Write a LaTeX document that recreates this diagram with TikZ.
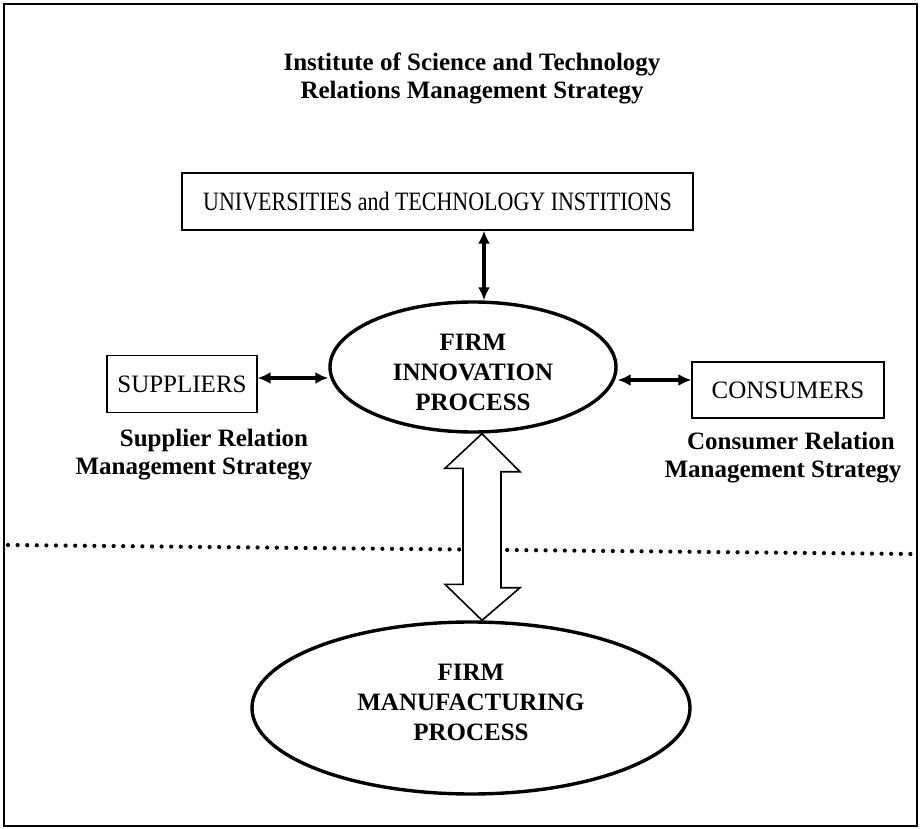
\documentclass[tikz,border=0pt]{standalone}
\usepackage{fontspec}
\setmainfont{Liberation Serif}
\newfontfamily\narrowserif{Liberation Serif}[FakeStretch=0.83]
\usetikzlibrary{arrows.meta,shapes.geometric}

\tikzset{
  plainbox/.style={draw, line width=1.3pt, rectangle, inner sep=0pt,
    font=\fontsize{25}{28}\selectfont},
  procoval/.style={draw, line width=3.4pt, ellipse, inner sep=0pt},
  proctext/.style={align=center, font=\bfseries\fontsize{25}{30}\selectfont},
  boldlabel/.style={align=center, font=\bfseries\fontsize{25}{28}\selectfont},
  biarrow/.style={line width=3.2pt,
    {Latex[length=13pt,width=12pt]}-{Latex[length=13pt,width=12pt]}},
  hollowarrow/.style={draw, fill=white, line width=1.6pt, line join=miter},
  divider/.style={line width=4.2pt, line cap=round, dash pattern=on 0pt off 9.6pt}
}

\begin{document}
\begin{tikzpicture}[x=1pt, y=-1pt]
  \useasboundingbox (0,0) rectangle (922,829);

  % outer frame
  \draw[line width=1.6pt] (4,4) rectangle (917,826);

  % heading
  \node[boldlabel] (title) at (472,78)
    {Institute of Science and Technology\\Relations Management Strategy};

  % partners around the innovation process
  \node[plainbox, minimum width=511pt, minimum height=57pt,
        font=\narrowserif\fontsize{26.5}{30}\selectfont] (univ) at (437.5,201.5)
    {UNIVERSITIES and TECHNOLOGY INSTITIONS};
  \node[procoval, minimum width=286pt, minimum height=130pt] (innov) at (473,367) {};
  \node[proctext] (innovtext) at ([yshift=-5pt]innov.center)
    {FIRM\\INNOVATION\\PROCESS};
  \node[plainbox, minimum width=150pt, minimum height=57pt] (supp) at (182,384)
    {SUPPLIERS};
  \node[plainbox, minimum width=192pt, minimum height=56pt] (cons) at (788,390)
    {CONSUMERS};

  \node[boldlabel, anchor=base] (supplab1) at (214,446) {Supplier Relation};
  \node[boldlabel, anchor=base] (supplab2) at (194,474) {Management Strategy};
  \node[boldlabel, anchor=base] (conslab1) at (791,449) {Consumer Relation};
  \node[boldlabel, anchor=base] (conslab2) at (783,477) {Management Strategy};

  % two-way links
  \draw[biarrow] ([xshift=11pt]univ.south -| innov.north) -- ([xshift=11pt]innov.north);
  \coordinate (sa) at ([yshift=6pt]supp.east);
  \draw[biarrow] (sa) -- (sa -| innov.west);
  \coordinate (ca) at ([yshift=10pt]cons.west);
  \draw[biarrow] (ca -| innov.east) -- (ca);

  % boundary between innovation and manufacturing
  \coordinate (dl) at (8,545);
  \coordinate (dr) at (913,554);
  \draw[divider] (dl) -- (dr);

  % manufacturing process
  \node[procoval, minimum width=438pt, minimum height=172pt] (manuf) at (471,708) {};
  \node[proctext] (manuftext) at ([yshift=6pt]manuf.center)
    {FIRM\\MANUFACTURING\\PROCESS};

  % hollow double arrow between the two processes
  \coordinate (bt) at (innov.south -| 482,0);
  \coordinate (bb) at (manuf.north -| 482,0);
  \draw[hollowarrow] (bt) -- ++(38,38) -- ++(-19,0) -- ++(0,116) -- ++(19,0)
    -- (bb) -- ++(-37,-36) -- ++(18,0) -- ++(0,-116) -- ++(-18,0) -- cycle;
\end{tikzpicture}
\end{document}
